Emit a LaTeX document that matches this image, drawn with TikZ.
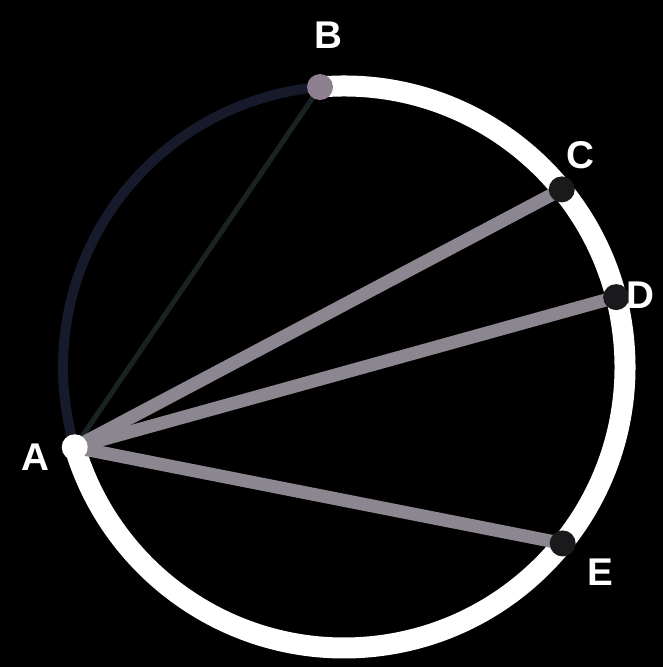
\documentclass[tikz,border=0pt]{standalone}
\usepackage{fontspec}
\setsansfont{Liberation Sans}
\definecolor{nightblue}{RGB}{22,26,42}
\definecolor{darkchord}{RGB}{26,34,36}
\definecolor{chordgray}{RGB}{140,134,144}
\definecolor{bdot}{RGB}{142,128,142}
\definecolor{pdot}{RGB}{26,26,28}
\tikzset{
  chord/.style={chordgray, line width=0.26cm},
  dot/.style={circle, inner sep=0pt, minimum size=0.52cm},
  lbl/.style={white, font=\sffamily\bfseries\fontsize{22}{24}\selectfont}
}
\begin{document}
\begin{tikzpicture}
  \useasboundingbox[fill=black] (0,0) rectangle (13.26,13.34);
  \begin{scope}[shift={(6.88,6.0)}]
    % points on the circle
    \coordinate (A) at (196.6:5.62);
    \coordinate (B) at (94.9:5.62);
    \coordinate (C) at (39.2:5.62);
    \coordinate (D) at (14.4:5.62);
    \coordinate (E) at (-38.9:5.62);
    % the two arcs
    \draw[nightblue, line width=0.2cm] (A) arc[start angle=196.6, end angle=94.9, radius=5.62];
    \draw[white, line width=0.42cm] (B) arc[start angle=94.9, end angle=-163.4, radius=5.62];
    % chords from A
    \draw[darkchord, line width=0.1cm] (A) -- (B);
    \draw[chord] (A) -- (C);
    \draw[chord] (A) -- (D);
    \draw[chord] (A) -- (E);
    \node[dot, fill=white] (a) at (A) {};
    \node[dot, fill=bdot] (b) at (B) {};
    \node[dot, fill=pdot] (c) at (C) {};
    \node[dot, fill=pdot] (d) at (D) {};
    \node[dot, fill=pdot] (e) at (E) {};
  \end{scope}
  \node[lbl] (la) at (0.70,4.2) {A};
  \node[lbl] (lb) at (6.56,12.64) {B};
  \node[lbl] (lc) at (11.6,10.24) {C};
  \node[lbl] (ld) at (12.8,7.44) {D};
  \node[lbl] (le) at (12.0,1.9) {E};
\end{tikzpicture}
\end{document}
